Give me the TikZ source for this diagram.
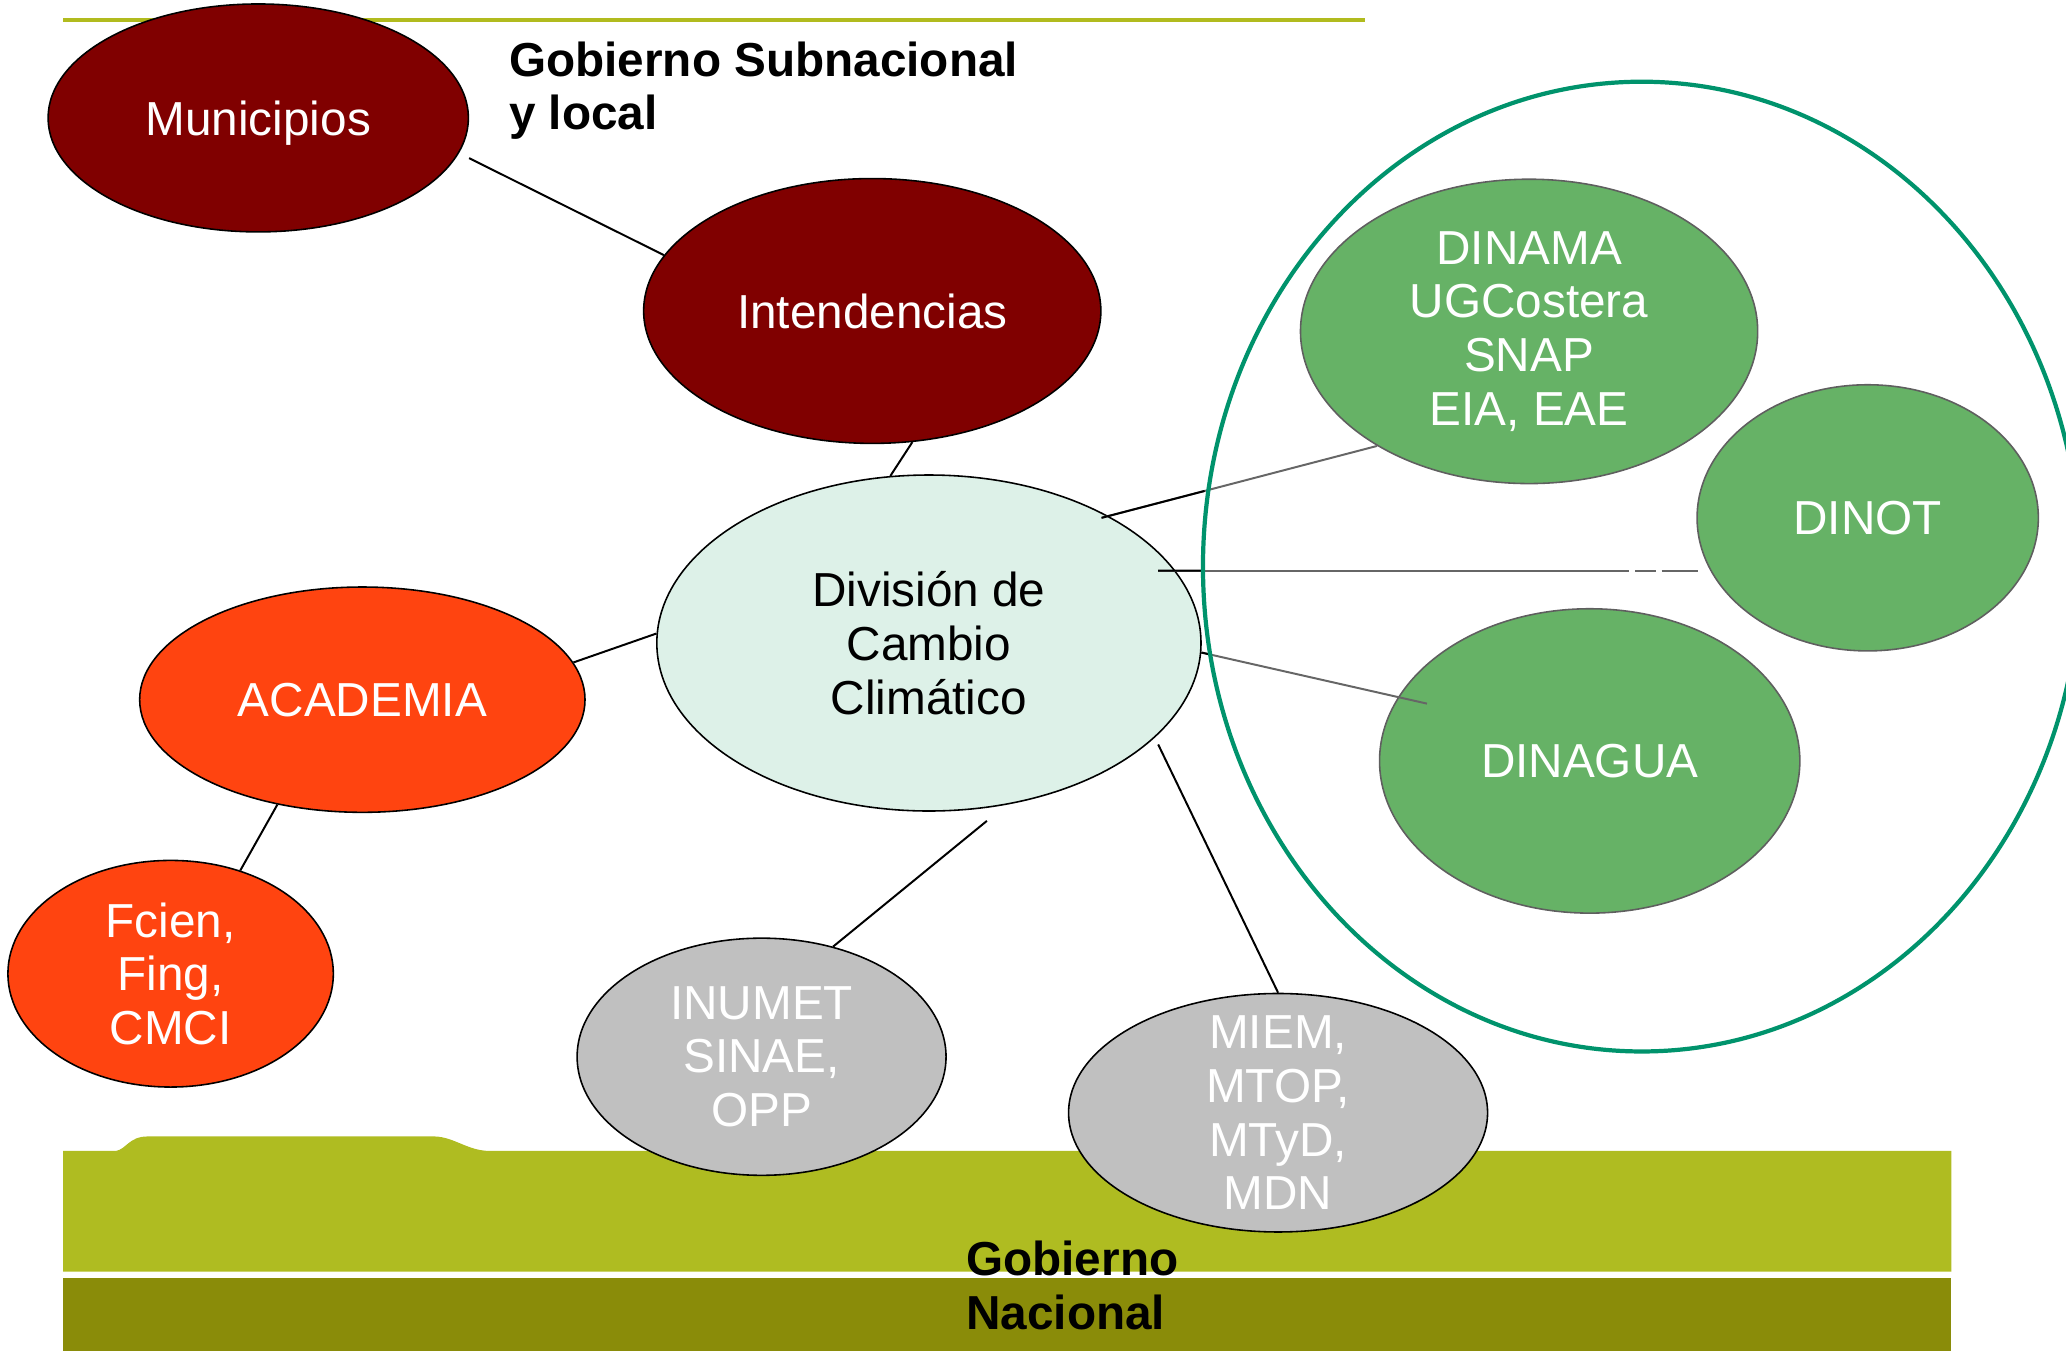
\documentclass[tikz,border=0pt]{standalone}
\usepackage{fontspec}
\setmainfont{Liberation Sans}
\usetikzlibrary{shapes.geometric,calc}
\definecolor{dred}{HTML}{800000}
\definecolor{acad}{HTML}{FF4410}
\definecolor{mint}{HTML}{DDF1E8}
\definecolor{grayn}{HTML}{C0C0C0}
\definecolor{greenn}{HTML}{66B266}
\definecolor{greenbd}{HTML}{5F5F5F}
\definecolor{teal}{HTML}{00936C}
\definecolor{oliveA}{HTML}{AFBC21}
\definecolor{oliveB}{HTML}{8A8C09}
\definecolor{oliveL}{HTML}{B1BB1E}
\definecolor{lgray}{HTML}{666666}
\newcommand\mainsz{\fontsize{18.1pt}{20.4pt}\selectfont}
\newcommand\nodepth[1]{\raisebox{0pt}[\height][0pt]{#1}}
\tikzset{
  ebase/.style={ellipse, draw=black, line width=0.6pt, inner sep=0pt},
  lbl/.style={align=center, inner sep=0pt, font=\mainsz, text=white},
  redn/.style={ebase, fill=dred},
  acadn/.style={ebase, fill=acad},
  mintn/.style={ebase, fill=mint},
  grayn/.style={ebase, fill=grayn},
  greenn/.style={ebase, draw=greenbd, fill=greenn},
  conn/.style={line width=0.75pt, black},
  gconn/.style={line width=0.75pt, lgray},
  title/.style={inner sep=0pt, font=\mainsz\bfseries, anchor=base west}
}
\begin{document}
\begin{tikzpicture}[x=0.5pt,y=-0.5pt]
\useasboundingbox (0,0) rectangle (1568,1025);
% bands
\fill[oliveA] (48,873.5) -- (88,873.5) .. controls (96,872) and (98,862.5) .. (112,862.5)
  -- (330,862.5) .. controls (345,863) and (355,873.5) .. (372,873.5)
  -- (1481,873.5) -- (1481,965) -- (48,965) -- cycle;
\fill[oliveB] (48,970) rectangle (1481,1025);
\draw[oliveL, line width=1.4pt] (48,15) -- (1036,15);
% titles
\node[title] (tsub) at (386,57.7) {\begin{tabular}[t]{@{}l@{}}Gobierno Subnacional\\y local\end{tabular}};
\node[title] (tnac) at (733,968) {\begin{tabular}[t]{@{}l@{}}Gobierno\\Nacional\end{tabular}};
% nodes
\node[redn, minimum width=159.5pt, minimum height=86.5pt, label={[lbl]center:\nodepth{Municipios}}] (mun) at (196,89.5) {};
\node[redn, minimum width=173.5pt, minimum height=100.5pt, label={[lbl]center:Intendencias}] (int) at (662,236) {};
\node[mintn, minimum width=206.5pt, minimum height=127.5pt, label={[lbl,text=black]center:{División de\\Cambio\\Climático}}] (div) at (705,488) {};
\node[acadn, minimum width=169pt, minimum height=85.5pt, label={[lbl]center:ACADEMIA}] (aca) at (275,531) {};
\node[acadn, minimum width=123.5pt, minimum height=86pt, label={[lbl]center:{Fcien,\\Fing,\\CMCI}}] (fci) at (129.5,739) {};
\node[grayn, minimum width=140pt, minimum height=90pt, label={[lbl]center:{INUMET\\SINAE,\\OPP}}] (inu) at (578,802) {};
\node[grayn, minimum width=159pt, minimum height=90.5pt, label={[lbl]center:{MIEM,\\MTOP,\\MTyD,\\MDN}}] (miem) at (970,844.5) {};
\node[greenn, minimum width=173.5pt, minimum height=115.5pt, label={[lbl]center:{DINAMA\\UGCostera\\SNAP\\EIA, EAE}}] (dinama) at (1160.5,251.5) {};
\node[greenn, minimum width=129.5pt, minimum height=101pt, label={[lbl]center:DINOT}] (dinot) at (1417.5,393) {};
\node[greenn, minimum width=159.5pt, minimum height=115.5pt, label={[lbl]center:DINAGUA}] (dinagua) at (1206.5,577.5) {};
% connector end coordinates
\coordinate (munE) at ($(mun.center)+(160,30.5)$);
\coordinate (divS) at ($(div.center)+(44,135)$);
\coordinate (divSE) at ($(div.center)+(174,77)$);
\coordinate (divNE) at ($(div.center)+(131,-95)$);
\coordinate (divE) at ($(div.center)+(174,-55)$);
\coordinate (dinotW) at ($(dinot.center)+(-128.5,40)$);
\coordinate (dinaguaIn) at ($(dinagua.center)+(-123.5,-43.5)$);
% connectors
\draw[conn] (munE) -- (int.165);
\draw[conn] (int.-73) -- (div.103);
\draw[conn] (aca.10) -- (div.178);
\draw[conn] (aca.-129) -- (fci.56);
\draw[conn] (divS) -- (inu.57);
\draw[conn] (divSE) -- (miem.north);
\draw[gconn] (divNE) -- (dinama.-143);
\draw[conn] (divNE) -- ($(divNE)!0.374!(dinama.-143)$);
\draw[gconn, dash pattern=on 178.75pt off 2.25pt on 7.75pt off 2.25pt on 30pt] (divE) -- (dinotW);
\draw[conn] (divE) -- ($(divE)!0.083!(dinotW)$);
\draw[gconn] (div.-2.5) -- (dinaguaIn);
\draw[conn] (div.-2.5) -- ($(div.-2.5)!0.039!(dinaguaIn)$);
% big circle
\node[ellipse, draw=teal, line width=1.6pt, minimum width=333pt, minimum height=368pt, inner sep=0pt] (grp) at (1246,430) {};
\end{tikzpicture}
\end{document}
